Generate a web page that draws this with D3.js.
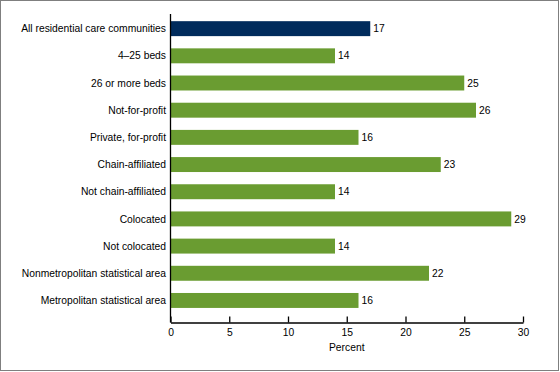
<!DOCTYPE html>
<html>
<head>
<meta charset="utf-8">
<script src="https://cdn.jsdelivr.net/npm/d3@7"></script>
<style>
  body { margin: 0; background: #fff; }
  svg { display: block; font-family: Arial, "Liberation Sans", sans-serif; }
</style>
</head>
<body>
<svg id="chart" width="560" height="372"></svg>
<script>
// chart data
var CATEGORIES = ["All residential care communities", "4\u201325 beds", "26 or more beds", "Not-for-profit",
    "Private, for-profit", "Chain-affiliated", "Not chain-affiliated", "Colocated", "Not colocated",
    "Nonmetropolitan statistical area", "Metropolitan statistical area"];
var VALUES = [17, 14, 25, 26, 16, 23, 14, 29, 14, 22, 16];
var X_TICKS = [0, 5, 10, 15, 20, 25, 30];
var X_TITLE = "Percent";

var AXIS_LEFT = 170.5;
var AXIS_RIGHT = 523;
var AXIS_Y = 322.5;
var NAVY = "#002b5c";
var GREEN = "#6a9c31";
var FONT_SIZE = 10.3;

var data = CATEGORIES.map((c, i) => ({ name: c, value: VALUES[i] }));

var svg = d3.select("#chart");

// outer frame
svg.append("rect")
    .attr("x", 0.5).attr("y", 0.5)
    .attr("width", 558).attr("height", 370)
    .attr("fill", "none")
    .attr("stroke", "#7f7f7f");

var xScale = d3.scaleLinear()
    .domain([0, 30])
    .range([AXIS_LEFT, AXIS_RIGHT]);

var yScale = d3.scaleBand()
    .domain(CATEGORIES)
    .range([14, AXIS_Y])
    .paddingInner(0.45)
    .paddingOuter(0.4)
    .align(0.33);

// bars
svg.append("g").selectAll("rect")
    .data(data)
    .enter().append("rect")
    .attr("x", xScale(0))
    .attr("y", d => yScale(d.name))
    .attr("width", d => xScale(d.value) - xScale(0))
    .attr("height", yScale.bandwidth())
    .attr("fill", (d, i) => i == 0 ? NAVY : GREEN);

// value labels
svg.append("g").selectAll("text")
    .data(data)
    .enter().append("text")
    .attr("x", d => xScale(d.value) + 3)
    .attr("y", d => yScale(d.name) + yScale.bandwidth() / 2)
    .attr("dy", "0.35em")
    .attr("font-size", FONT_SIZE)
    .attr("fill", "#000")
    .text(d => d.value);

// category labels
svg.append("g").selectAll("text")
    .data(data)
    .enter().append("text")
    .attr("x", 166)
    .attr("y", d => yScale(d.name) + yScale.bandwidth() / 2)
    .attr("dy", "0.35em")
    .attr("text-anchor", "end")
    .attr("font-size", FONT_SIZE)
    .attr("fill", "#000")
    .text(d => d.name);

// x axis, ticks pointing up
var xAxis = d3.axisBottom(xScale)
    .tickValues(X_TICKS)
    .tickSizeInner(-6)
    .tickSizeOuter(0)
    .tickPadding(6);

var gx = svg.append("g")
    .attr("transform", `translate(0, ${AXIS_Y})`)
    .call(xAxis);
gx.select(".domain").attr("stroke", "#000").attr("stroke-width", 1.3);
gx.selectAll(".tick line").attr("stroke", "#000").attr("stroke-width", 1.3);
gx.selectAll(".tick text")
    .attr("font-size", FONT_SIZE)
    .attr("font-family", "Arial, 'Liberation Sans', sans-serif")
    .attr("fill", "#000");

// y axis line
svg.append("line")
    .attr("x1", AXIS_LEFT).attr("x2", AXIS_LEFT)
    .attr("y1", 14).attr("y2", AXIS_Y)
    .attr("stroke", "#000")
    .attr("stroke-width", 1.3);

svg.append("text")
    .attr("x", (AXIS_LEFT + AXIS_RIGHT) / 2)
    .attr("y", 351)
    .attr("text-anchor", "middle")
    .attr("font-size", FONT_SIZE)
    .attr("fill", "#000")
    .text(X_TITLE);
</script>
</body>
</html>
